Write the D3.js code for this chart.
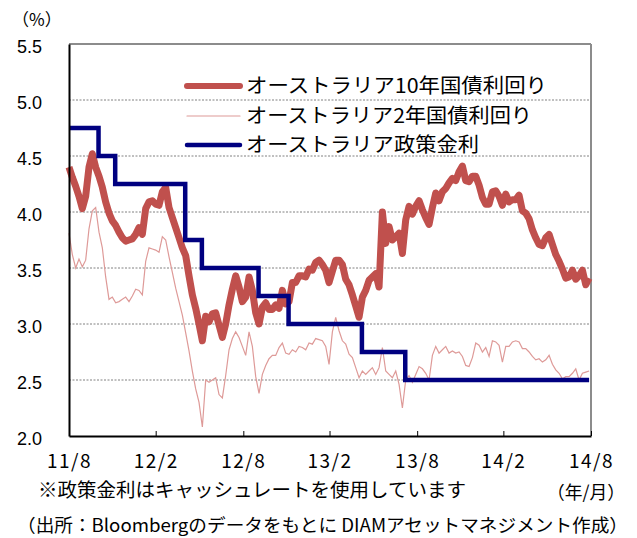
<!DOCTYPE html>
<html><head><meta charset="utf-8">
<script src="https://cdn.jsdelivr.net/npm/d3@7"></script>
<style>
html,body{margin:0;padding:0;background:#fff;}
svg{display:block;}
</style></head>
<body>
<svg id="chart" width="637" height="538"></svg>
<script>
// ---- data (weekly observations from 2011-08-31) ----
const startDate = "2011-08-31";
const stepDays = 7;
const yield10y = [4.40,4.31,4.23,4.14,4.03,4.14,4.40,4.52,4.40,4.32,4.22,4.09,3.99,3.92,3.88,3.82,3.77,3.74,3.75,3.76,
3.80,3.86,3.80,4.03,4.09,4.10,4.07,4.06,4.18,4.22,4.04,3.95,3.86,3.77,3.68,3.61,3.43,3.26,3.14,3.00,
2.85,3.07,3.02,3.09,3.10,2.99,2.88,3.00,3.17,3.31,3.43,3.33,3.20,3.24,3.42,3.30,3.10,3.00,3.15,3.19,
3.13,3.13,3.17,3.14,3.30,3.18,3.20,3.37,3.37,3.43,3.43,3.42,3.49,3.48,3.55,3.57,3.53,3.48,3.37,3.47,
3.57,3.57,3.53,3.40,3.35,3.26,3.16,3.06,3.24,3.30,3.39,3.42,3.45,3.33,4.00,3.72,3.87,3.75,3.78,3.81,
3.63,3.93,4.05,3.98,4.05,4.10,4.02,3.95,3.89,4.04,4.17,4.10,4.18,4.21,4.26,4.30,4.28,4.36,4.41,4.28,
4.27,4.32,4.32,4.24,4.13,4.07,4.07,4.18,4.19,4.14,4.06,4.16,4.09,4.11,4.11,4.15,4.01,3.99,3.94,3.84,
3.77,3.71,3.70,3.77,3.80,3.71,3.62,3.56,3.49,3.41,3.42,3.48,3.40,3.43,3.48,3.35,3.41];
const yield2y = [3.81,3.62,3.50,3.58,3.51,3.57,3.85,4.01,4.04,3.82,3.68,3.42,3.22,3.24,3.19,3.20,3.22,3.24,3.20,3.25,
3.31,3.30,3.26,3.56,3.68,3.67,3.66,3.64,3.78,3.75,3.60,3.46,3.32,3.20,3.08,2.92,2.76,2.58,2.42,2.30,
2.08,2.50,2.48,2.50,2.52,2.37,2.34,2.54,2.77,2.87,2.93,2.88,2.80,2.72,2.93,2.80,2.53,2.38,2.55,2.63,
2.69,2.72,2.72,2.79,2.83,2.74,2.73,2.77,2.75,2.80,2.79,2.77,2.83,2.82,2.87,2.86,2.85,2.80,2.64,2.93,
3.06,2.94,2.85,2.82,2.73,2.70,2.61,2.52,2.58,2.55,2.58,2.61,2.55,2.61,2.79,2.58,2.55,2.52,2.58,2.46,
2.25,2.50,2.54,2.48,2.55,2.62,2.60,2.56,2.50,2.72,2.80,2.74,2.77,2.80,2.74,2.76,2.74,2.75,2.71,2.63,
2.62,2.70,2.83,2.81,2.75,2.79,2.71,2.85,2.84,2.81,2.66,2.80,2.80,2.84,2.85,2.84,2.78,2.78,2.75,2.71,
2.68,2.69,2.66,2.68,2.72,2.64,2.59,2.56,2.51,2.53,2.53,2.56,2.60,2.50,2.56,2.57,2.58];
const policyDates = ["2011-08-31","2011-11-01","2011-12-06","2012-05-01","2012-06-05","2012-10-02","2012-12-04","2013-05-07","2013-08-06","2014-08-27"];
const policyRate  = [4.75,4.50,4.25,3.75,3.50,3.25,3.00,2.75,2.50,2.50];
const xTickDates  = ["2011-08-31","2012-02-29","2012-08-31","2013-02-28","2013-08-31","2014-02-28","2014-08-31"];
const xTickLabels = ["11/8","12/2","12/8","13/2","13/8","14/2","14/8"];
const yTicks = [2.0,2.5,3.0,3.5,4.0,4.5,5.0,5.5];
const seriesNames = ["オーストラリア10年国債利回り","オーストラリア2年国債利回り","オーストラリア政策金利"];

// ---- build ----
const parse = d3.utcParse("%Y-%m-%d");
const t0 = parse(startDate);
const d10 = yield10y.map((v,i)=>({date:d3.utcDay.offset(t0,i*stepDays), v}));
const d2  = yield2y.map((v,i)=>({date:d3.utcDay.offset(t0,i*stepDays), v}));
const dp  = policyRate.map((v,i)=>({date:parse(policyDates[i]), v}));

const svg = d3.select("#chart");
const L=69, R=591, T=44, B=436;
const x = d3.scaleUtc().domain([parse("2011-08-31"), parse("2014-08-31")]).range([L,R]);
const y = d3.scaleLinear().domain([2,5.5]).range([B,T]);
const jp = "'Noto Sans CJK JP', 'Noto Sans', sans-serif";

// gridlines
svg.append("g").selectAll("line").data(yTicks.filter(v=>v>2 && v<5.5)).join("line")
  .attr("x1",L).attr("x2",R).attr("y1",d=>y(d)).attr("y2",d=>y(d))
  .attr("stroke","#808080").attr("stroke-width",1).attr("stroke-dasharray","2,1.5");

// frame top/right
svg.append("line").attr("x1",L).attr("x2",R).attr("y1",T).attr("y2",T).attr("stroke","#8c8c8c").attr("stroke-width",2);
svg.append("line").attr("x1",R).attr("x2",R).attr("y1",T).attr("y2",B).attr("stroke","#8c8c8c").attr("stroke-width",2);

// lines
const line = d3.line().x(d=>x(d.date)).y(d=>y(d.v));
svg.append("path").datum(d2).attr("d",line).attr("fill","none").attr("stroke","#DE9A98").attr("stroke-width",1.2);
svg.append("path").datum(d10).attr("d",line).attr("fill","none").attr("stroke","#C0504D").attr("stroke-width",7).attr("stroke-linejoin","round");
svg.append("path").datum(dp).attr("d",line.curve(d3.curveStepAfter)).attr("fill","none").attr("stroke","#000080").attr("stroke-width",4.5);

// axes
const xAxis = d3.axisBottom(x).tickValues(xTickDates.map(parse))
  .tickFormat((d,i)=>xTickLabels[i]).tickSizeInner(-5).tickSizeOuter(0).tickPadding(19);
const gx = svg.append("g").attr("transform",`translate(0,${B})`).call(xAxis);
gx.select(".domain").attr("stroke","#000").attr("stroke-width",2);
gx.selectAll(".tick line").attr("stroke","#000").attr("stroke-width",1);
gx.selectAll("text").attr("font-family",jp).attr("font-size",19).attr("fill","#000").attr("letter-spacing","1.5px");

const yAxis = d3.axisLeft(y).tickValues(yTicks).tickFormat(d3.format(".1f")).tickSize(0).tickPadding(27);
const gy = svg.append("g").attr("transform",`translate(${L},0)`).call(yAxis);
gy.select(".domain").attr("stroke","#000").attr("stroke-width",2);
gy.selectAll("text").attr("font-family","'Liberation Sans', Arial, sans-serif").attr("font-size",18).attr("fill","#000").attr("dy","0.45em");

// legend
const lg = svg.append("g");
const legendY = [86,116,145];
const legendStyle = [{c:"#C0504D",w:6},{c:"#DE9A98",w:1.2},{c:"#000080",w:4.5}];
const legendLen = [301,286,233];
seriesNames.forEach((n,i)=>{
  lg.append("line").attr("x1",187).attr("x2",240).attr("y1",legendY[i]).attr("y2",legendY[i])
    .attr("stroke",legendStyle[i].c).attr("stroke-width",legendStyle[i].w).attr("stroke-linecap","round");
  lg.append("text").attr("x",246).attr("y",legendY[i]+7).text(n)
    .attr("font-family",jp).attr("font-size",20).attr("fill","#000")
    .attr("textLength",legendLen[i]).attr("lengthAdjust","spacingAndGlyphs");
});

// texts
svg.append("text").attr("x",12).attr("y",26).text("（%）").attr("font-family",jp).attr("font-size",17).attr("fill","#000");
svg.append("text").attr("x",38).attr("y",497).text("※政策金利はキャッシュレートを使用しています")
  .attr("font-family",jp).attr("font-size",19).attr("fill","#000").attr("textLength",428).attr("lengthAdjust","spacingAndGlyphs");
svg.append("text").attr("x",547).attr("y",499).text("（年/月）")
  .attr("font-family",jp).attr("font-size",18).attr("fill","#000").attr("textLength",78).attr("lengthAdjust","spacingAndGlyphs");
svg.append("text").attr("x",17).attr("y",532).text("（出所：Bloombergのデータをもとに DIAMアセットマネジメント作成）")
  .attr("font-family",jp).attr("font-size",18).attr("fill","#000").attr("textLength",611).attr("lengthAdjust","spacingAndGlyphs");
</script>
</body></html>
